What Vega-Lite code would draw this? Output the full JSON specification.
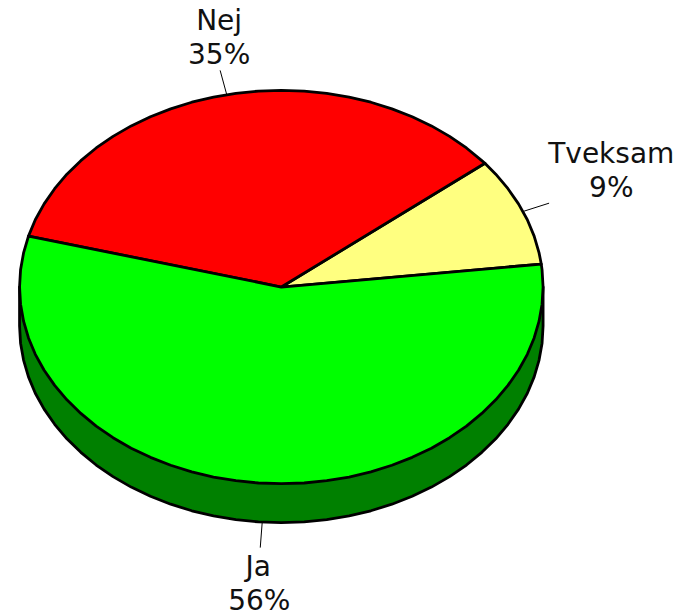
{"$schema":"https://vega.github.io/schema/vega-lite/v6.json","width":688,"height":616,"autosize":{"type":"fit","contains":"padding"},"padding":0,"background":"white","view":{"stroke":null},
"datasets":{
"wall":[
{"slice":"Sida","i":0,"x":-261,"y":0},{"slice":"Sida","i":1,"x":-261,"y":-39},{"slice":"Sida","i":2,"x":-260,"y":-56.2},{"slice":"Sida","i":3,"x":-257,"y":-73.2},{"slice":"Sida","i":4,"x":-252.1,"y":-90},{"slice":"Sida","i":5,"x":-245.3,"y":-106.4},{"slice":"Sida","i":6,"x":-236.5,"y":-122.3},{"slice":"Sida","i":7,"x":-226,"y":-137.5},{"slice":"Sida","i":8,"x":-213.8,"y":-152},{"slice":"Sida","i":9,"x":-199.9,"y":-165.6},{"slice":"Sida","i":10,"x":-184.6,"y":-178.3},{"slice":"Sida","i":11,"x":-167.8,"y":-189.9},{"slice":"Sida","i":12,"x":-149.7,"y":-200.4},{"slice":"Sida","i":13,"x":-130.5,"y":-209.6},{"slice":"Sida","i":14,"x":-110.3,"y":-217.5},{"slice":"Sida","i":15,"x":-89.3,"y":-224.1},{"slice":"Sida","i":16,"x":-67.6,"y":-229.3},{"slice":"Sida","i":17,"x":-45.3,"y":-233},{"slice":"Sida","i":18,"x":-22.8,"y":-235.3},{"slice":"Sida","i":19,"x":0,"y":-236},{"slice":"Sida","i":20,"x":22.8,"y":-235.3},{"slice":"Sida","i":21,"x":45.3,"y":-233},{"slice":"Sida","i":22,"x":67.6,"y":-229.3},{"slice":"Sida","i":23,"x":89.3,"y":-224.1},{"slice":"Sida","i":24,"x":110.3,"y":-217.5},{"slice":"Sida","i":25,"x":130.5,"y":-209.6},{"slice":"Sida","i":26,"x":149.7,"y":-200.4},{"slice":"Sida","i":27,"x":167.8,"y":-189.9},{"slice":"Sida","i":28,"x":184.6,"y":-178.3},{"slice":"Sida","i":29,"x":199.9,"y":-165.6},{"slice":"Sida","i":30,"x":213.8,"y":-152},{"slice":"Sida","i":31,"x":226,"y":-137.5},{"slice":"Sida","i":32,"x":236.5,"y":-122.3},{"slice":"Sida","i":33,"x":245.3,"y":-106.4},{"slice":"Sida","i":34,"x":252.1,"y":-90},{"slice":"Sida","i":35,"x":257,"y":-73.2},{"slice":"Sida","i":36,"x":260,"y":-56.2},{"slice":"Sida","i":37,"x":261,"y":-39},{"slice":"Sida","i":38,"x":261,"y":0}],
"slices":[
{"slice":"Tveksam","i":0,"x":0,"y":0},{"slice":"Tveksam","i":1,"x":259.2,"y":23},{"slice":"Tveksam","i":2,"x":257,"y":34.2},{"slice":"Tveksam","i":3,"x":252.1,"y":51},{"slice":"Tveksam","i":4,"x":245.3,"y":67.4},{"slice":"Tveksam","i":5,"x":236.5,"y":83.3},{"slice":"Tveksam","i":6,"x":226,"y":98.5},{"slice":"Tveksam","i":7,"x":213.8,"y":113},{"slice":"Tveksam","i":8,"x":203,"y":124},
{"slice":"Nej","i":0,"x":0,"y":0},{"slice":"Nej","i":1,"x":203,"y":124},{"slice":"Nej","i":2,"x":199.9,"y":126.6},{"slice":"Nej","i":3,"x":184.6,"y":139.3},{"slice":"Nej","i":4,"x":167.8,"y":150.9},{"slice":"Nej","i":5,"x":149.7,"y":161.4},{"slice":"Nej","i":6,"x":130.5,"y":170.6},{"slice":"Nej","i":7,"x":110.3,"y":178.5},{"slice":"Nej","i":8,"x":89.3,"y":185.1},{"slice":"Nej","i":9,"x":67.6,"y":190.3},{"slice":"Nej","i":10,"x":45.3,"y":194},{"slice":"Nej","i":11,"x":22.8,"y":196.3},{"slice":"Nej","i":12,"x":0,"y":197},{"slice":"Nej","i":13,"x":-22.8,"y":196.3},{"slice":"Nej","i":14,"x":-45.3,"y":194},{"slice":"Nej","i":15,"x":-67.6,"y":190.3},{"slice":"Nej","i":16,"x":-89.3,"y":185.1},{"slice":"Nej","i":17,"x":-110.3,"y":178.5},{"slice":"Nej","i":18,"x":-130.5,"y":170.6},{"slice":"Nej","i":19,"x":-149.7,"y":161.4},{"slice":"Nej","i":20,"x":-167.8,"y":150.9},{"slice":"Nej","i":21,"x":-184.6,"y":139.3},{"slice":"Nej","i":22,"x":-199.9,"y":126.6},{"slice":"Nej","i":23,"x":-213.8,"y":113},{"slice":"Nej","i":24,"x":-226,"y":98.5},{"slice":"Nej","i":25,"x":-236.5,"y":83.3},{"slice":"Nej","i":26,"x":-245.3,"y":67.4},{"slice":"Nej","i":27,"x":-252.1,"y":51},
{"slice":"Ja","i":0,"x":0,"y":0},{"slice":"Ja","i":1,"x":-252.1,"y":51},{"slice":"Ja","i":2,"x":-257,"y":34.2},{"slice":"Ja","i":3,"x":-260,"y":17.2},{"slice":"Ja","i":4,"x":-261,"y":0},{"slice":"Ja","i":5,"x":-260,"y":-17.2},{"slice":"Ja","i":6,"x":-257,"y":-34.2},{"slice":"Ja","i":7,"x":-252.1,"y":-51},{"slice":"Ja","i":8,"x":-245.3,"y":-67.4},{"slice":"Ja","i":9,"x":-236.5,"y":-83.3},{"slice":"Ja","i":10,"x":-226,"y":-98.5},{"slice":"Ja","i":11,"x":-213.8,"y":-113},{"slice":"Ja","i":12,"x":-199.9,"y":-126.6},{"slice":"Ja","i":13,"x":-184.6,"y":-139.3},{"slice":"Ja","i":14,"x":-167.8,"y":-150.9},{"slice":"Ja","i":15,"x":-149.7,"y":-161.4},{"slice":"Ja","i":16,"x":-130.5,"y":-170.6},{"slice":"Ja","i":17,"x":-110.3,"y":-178.5},{"slice":"Ja","i":18,"x":-89.3,"y":-185.1},{"slice":"Ja","i":19,"x":-67.6,"y":-190.3},{"slice":"Ja","i":20,"x":-45.3,"y":-194},{"slice":"Ja","i":21,"x":-22.8,"y":-196.3},{"slice":"Ja","i":22,"x":0,"y":-197},{"slice":"Ja","i":23,"x":22.8,"y":-196.3},{"slice":"Ja","i":24,"x":45.3,"y":-194},{"slice":"Ja","i":25,"x":67.6,"y":-190.3},{"slice":"Ja","i":26,"x":89.3,"y":-185.1},{"slice":"Ja","i":27,"x":110.3,"y":-178.5},{"slice":"Ja","i":28,"x":130.5,"y":-170.6},{"slice":"Ja","i":29,"x":149.7,"y":-161.4},{"slice":"Ja","i":30,"x":167.8,"y":-150.9},{"slice":"Ja","i":31,"x":184.6,"y":-139.3},{"slice":"Ja","i":32,"x":199.9,"y":-126.6},{"slice":"Ja","i":33,"x":213.8,"y":-113},{"slice":"Ja","i":34,"x":226,"y":-98.5},{"slice":"Ja","i":35,"x":236.5,"y":-83.3},{"slice":"Ja","i":36,"x":245.3,"y":-67.4},{"slice":"Ja","i":37,"x":252.1,"y":-51},{"slice":"Ja","i":38,"x":257,"y":-34.2},{"slice":"Ja","i":39,"x":260,"y":-17.2},{"slice":"Ja","i":40,"x":261,"y":0},{"slice":"Ja","i":41,"x":260,"y":17.2},{"slice":"Ja","i":42,"x":259.2,"y":23}],
"leaders":[{"slice":"Nej","x":-61,"y":217,"x2":-54.5,"y2":193},{"slice":"Tveksam","x":267,"y":84,"x2":242,"y2":76},{"slice":"Ja","x":-19,"y":-235,"x2":-21,"y2":-261}],
"labels":[{"text":"Nej","x":-62,"y":257},{"text":"35%","x":-62,"y":223},{"text":"Tveksam","x":329,"y":124},{"text":"9%","x":329,"y":90},{"text":"Ja","x":-23,"y":-289},{"text":"56%","x":-22,"y":-323}]
},
"layer":[
{"data":{"name":"wall"},"mark":{"type":"line","interpolate":"linear-closed","stroke":"black","strokeWidth":2.8,"strokeJoin":"round","fill":"#008000"},"encoding":{"x":{"field":"x","type":"quantitative","scale":{"domain":[-280.5,405.5],"nice":false,"zero":false},"axis":null},"y":{"field":"y","type":"quantitative","scale":{"domain":[-328.5,287.5],"nice":false,"zero":false},"axis":null},"order":{"field":"i","type":"quantitative"}}},
{"data":{"name":"slices"},"mark":{"type":"line","interpolate":"linear-closed","stroke":"black","strokeWidth":2.8,"strokeJoin":"round"},"encoding":{"x":{"field":"x","type":"quantitative","axis":null},"y":{"field":"y","type":"quantitative","axis":null},"order":{"field":"i","type":"quantitative"},"detail":{"field":"slice"},"fill":{"field":"slice","type":"nominal","legend":null,"scale":{"domain":["Ja","Nej","Tveksam"],"range":["#00ff00","#ff0000","#ffff80"]}}}},
{"data":{"name":"leaders"},"mark":{"type":"rule","stroke":"black","strokeWidth":1},"encoding":{"x":{"field":"x","type":"quantitative","axis":null},"y":{"field":"y","type":"quantitative","axis":null},"x2":{"field":"x2"},"y2":{"field":"y2"}}},
{"data":{"name":"labels"},"mark":{"type":"text","font":"DejaVu Sans","fontSize":28,"align":"center","baseline":"alphabetic","color":"#111111"},"encoding":{"x":{"field":"x","type":"quantitative","axis":null},"y":{"field":"y","type":"quantitative","axis":null},"text":{"field":"text"}}}
]}
